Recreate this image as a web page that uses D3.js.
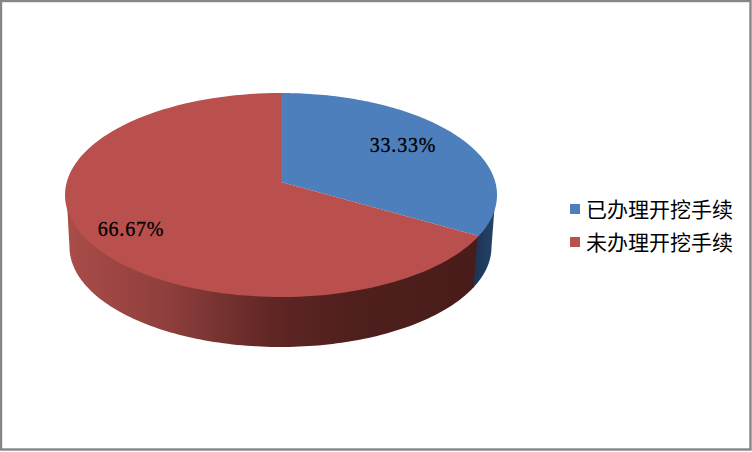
<!DOCTYPE html>
<html><head><meta charset="utf-8">
<script src="https://cdn.jsdelivr.net/npm/d3@7"></script>
<style>html,body{margin:0;padding:0;background:#fff}svg{display:block}</style>
</head><body><svg id="c" width="752" height="452"></svg>
<script>
const categories = ["已办理开挖手续", "未办理开挖手续"];
const seriesValues = [33.33, 66.67];
const valueLabels = ["33.33%", "66.67%"];
const topColors = ["#4c7fbc", "#b9504e"];

const svg = d3.select("#c");
svg.append("rect").attr("x",1).attr("y",1).attr("width",749.5).attr("height",448.5)
  .attr("fill","#fff").attr("stroke","#868686").attr("stroke-width",2.4);

const cx=281, cy=195, rx=216, ry=102, apexY=182, cx2=280.5, cy2=247, rx2=211, ry2=100;
const pie=d3.pie().sort(null).value(d=>d)(seriesValues);
// pie angle -> ellipse parameter, through a foreshortened apex
function phi(theta){
  const dx=Math.sin(theta)*rx, dy=-Math.cos(theta)*ry, oy=apexY-cy;
  const A=dx*dx/(rx*rx)+dy*dy/(ry*ry), B=2*dy*oy/(ry*ry), C=oy*oy/(ry*ry)-1;
  const s=(-B+Math.sqrt(B*B-4*A*C))/(2*A);
  let p=Math.atan2((dx*s)/rx, -(oy+dy*s)/ry);
  if(p<-1e-6) p+=2*Math.PI;
  return p;
}
const topPt=p=>[cx+rx*Math.sin(p), cy-ry*Math.cos(p)];
const innerPt=p=>[cx+(rx-1.5)*Math.sin(p), cy-(ry-1.5)*Math.cos(p)];
const botPt=p=>[cx2+rx2*Math.sin(p), cy2-ry2*Math.cos(p)];
const span=(a,b)=>d3.range(0,121).map(i=>a+(b-a)*i/120);
const line=d3.line();

const defs=svg.append("defs");
function grad(id,x1,x2,stops){
  const g=defs.append("linearGradient").attr("id",id).attr("gradientUnits","userSpaceOnUse")
    .attr("x1",x1).attr("x2",x2).attr("y1",0).attr("y2",0);
  stops.forEach(s=>g.append("stop").attr("offset",s[0]).attr("stop-color",s[1]));
}
grad("wallRed",65,480,[[0,"#ab4c49"],[0.25,"#8e3f3d"],[0.5,"#5f2624"],[0.7,"#4f1f1d"],[1,"#481c1a"]]);
grad("wallBlue",478,497,[[0,"#1c3657"],[1,"#27466c"]]);

const boundary=phi(pie[0].endAngle);
const wall=(a,b,fill)=>svg.append("path")
  .attr("d",line(span(a,b).map(innerPt).concat(span(b,a).map(botPt)))+"Z").attr("fill",fill);
wall(Math.PI/2,boundary+0.01,"url(#wallBlue)");
wall(boundary,3*Math.PI/2,"url(#wallRed)");

pie.forEach((s,i)=>{
  const pts=[[cx,apexY]].concat(span(phi(s.startAngle),s.endAngle>=2*Math.PI-1e-6?2*Math.PI:phi(s.endAngle)).map(topPt));
  svg.append("path").attr("d",line(pts)+"Z").attr("fill",topColors[i]);
});

const labelPos=[[403,145],[131,229]];
valueLabels.forEach((t,i)=>svg.append("text").attr("x",labelPos[i][0]).attr("y",labelPos[i][1])
  .attr("dy","0.35em").attr("text-anchor","middle")
  .attr("font-family","'Liberation Serif',serif").attr("font-size",20).attr("letter-spacing",0.8)
  .attr("fill","#000").attr("stroke","#000").attr("stroke-width",0.3).text(t));

const legY=d3.scalePoint().domain(categories).range([209,242]);
categories.forEach((c,i)=>{
  svg.append("rect").attr("x",570).attr("y",legY(c)-5).attr("width",10).attr("height",10).attr("fill",topColors[i]);
  svg.append("text").attr("x",586).attr("y",legY(c)).attr("dy","0.36em")
    .attr("font-family","'Noto Sans CJK SC',sans-serif").attr("font-size",21).attr("fill","#000").text(c);
});
</script></body></html>
